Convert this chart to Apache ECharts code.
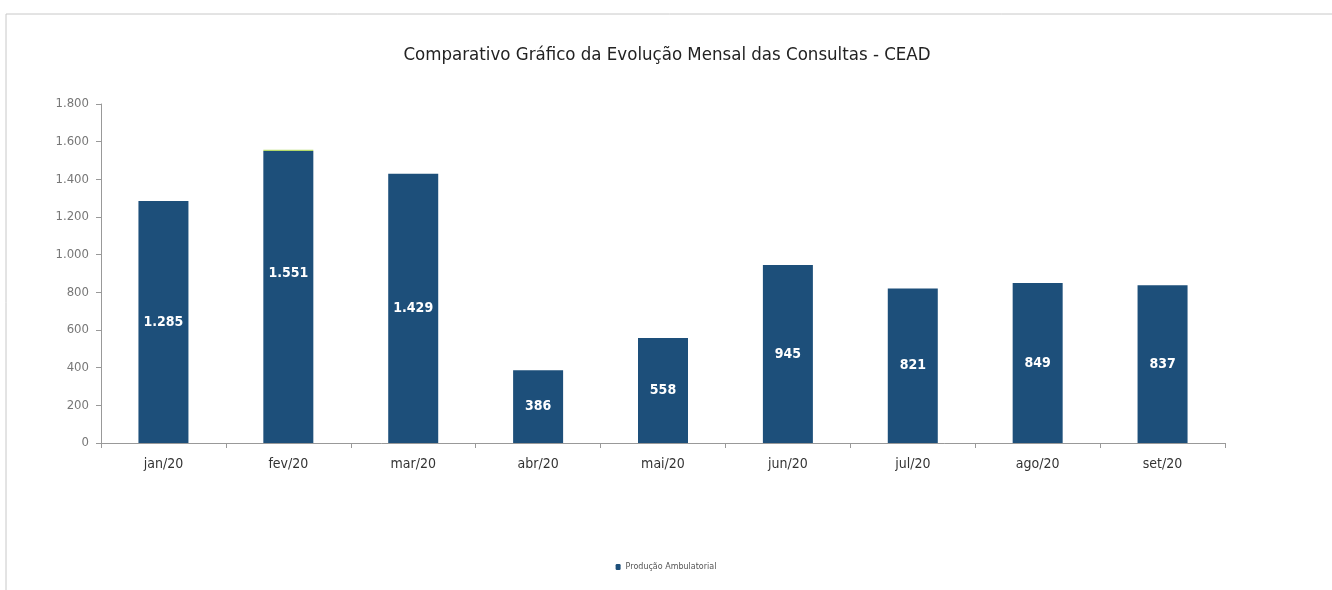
<!DOCTYPE html>
<html><head><meta charset="utf-8">
<script src="https://cdn.jsdelivr.net/npm/echarts@6/dist/echarts.min.js"></script>
<style>html,body{margin:0;padding:0;background:#fff}#c{width:1332px;height:590px}</style>
</head><body><div id="c"></div>
<script>
const categories = ['jan/20','fev/20','mar/20','abr/20','mai/20','jun/20','jul/20','ago/20','set/20'];
const producao = [1285, 1551, 1429, 386, 558, 945, 821, 849, 837];
const outros = [0, 6, 0, 0, 0, 0, 0, 0, 0];
const yTicks = [0, 200, 400, 600, 800, 1000, 1200, 1400, 1600, 1800];
const fmt = v => String(v).replace(/\B(?=(\d{3})+(?!\d))/g, '.');

const chart = echarts.init(document.getElementById('c'), null, {renderer:'canvas'});
chart.setOption({
  animation:false,
  backgroundColor:'#fff',
  title:{text:'Comparativo Gráfico da Evolução Mensal das Consultas - CEAD',left:662,top:41,textAlign:'center',
    textStyle:{fontFamily:'DejaVu Sans Condensed',fontSize:18.5,fontWeight:'normal',color:'#222'}},
  graphic:[{type:'rect',shape:{x:6,y:14,width:1340,height:590},style:{fill:'none',stroke:'#c8c8c8',lineWidth:1},silent:true}],
  legend:{data:['Produção Ambulatorial'],bottom:14,left:'center',itemWidth:5,itemHeight:6,itemGap:4,
    textStyle:{fontSize:8,color:'#555',fontFamily:'DejaVu Sans'}},
  grid:{left:101,right:107,top:104,bottom:147,containLabel:false},
  xAxis:{type:'category',data:categories,
    axisLine:{lineStyle:{color:'#999'}},axisTick:{show:true,alignWithLabel:false,lineStyle:{color:'#999'}},
    axisLabel:{color:'#333',fontSize:14,margin:14,fontFamily:'DejaVu Sans Condensed'}},
  yAxis:{type:'value',min:yTicks[0],max:yTicks[yTicks.length-1],interval:200,
    axisLine:{show:true,lineStyle:{color:'#999'}},axisTick:{show:true,lineStyle:{color:'#999'}},
    splitLine:{show:false},
    axisLabel:{color:'#777',fontSize:13,margin:12,fontFamily:'DejaVu Sans Condensed',formatter:v=>fmt(v)}},
  series:[
    {name:'Produção Ambulatorial',type:'bar',stack:'t',barWidth:50,
      itemStyle:{color:'#1d4f7a'},
      data:producao.map((v,i)=>i===1?{value:v,label:{offset:[0,-24]}}:v),
      label:{show:true,position:'inside',color:'#fff',fontWeight:'bold',fontSize:14,fontFamily:'DejaVu Sans Condensed',
        formatter:p=>fmt(p.value)}},
    {name:'Outros',type:'bar',stack:'t',barWidth:50,itemStyle:{color:'#b5d96a'},data:outros,label:{show:false}}
  ]
});
</script></body></html>
